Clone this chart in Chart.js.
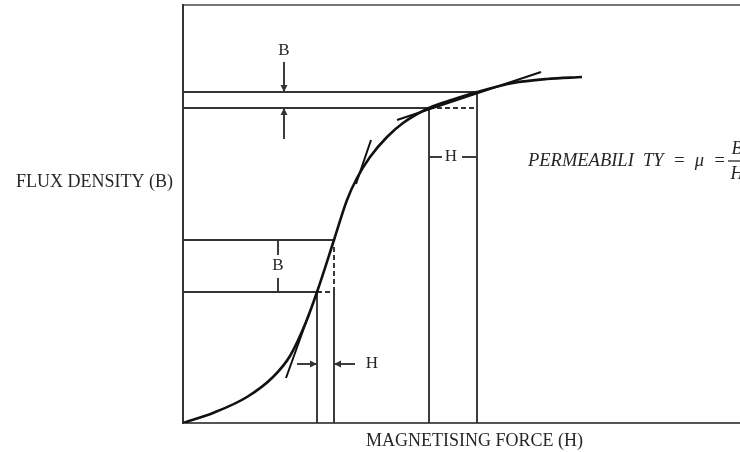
<!DOCTYPE html>
<html>
<head>
<meta charset="utf-8">
<title>Permeability - B/H curve</title>
<script src="https://cdn.jsdelivr.net/npm/chart.js@4.4.1/dist/chart.umd.min.js"></script>
<style>
    html, body { margin: 0; padding: 0; background: #fff; }
    #wrap { width: 740px; height: 452px; }
</style>
</head>
<body>
<div id="wrap"><canvas id="bhChart"></canvas></div>
<script>
// ------------------------------ Curve data (H on x, B on y, arbitrary units) ------------------------------
const curveH = [0, 6, 12.8, 18, 21.4, 24.6, 26.8, 30.2, 32.8, 34.8, 37.4, 40.8, 44, 49.2, 54, 58.8, 66, 72.8, 79.8];
const curveB = [0, 2, 5.2, 9.2, 13.4, 20.2, 26.2, 36.6, 44.6, 49, 53.2, 57.2, 60, 63, 64.7, 66.2, 68, 68.8, 69.2];

// tangent lines drawn along the curve
const tangentLowH = [20.6, 25.2];
const tangentLowB = [9, 21.8];
const tangentMidH = [34.6, 37.6];
const tangentMidB = [47.8, 56.6];
const tangentKneeH = [42.8, 71.6];
const tangentKneeB = [60.6, 70.2];

// the two measuring points (B levels and H levels)
const upperB = [63, 66.2];
const upperH = [49.2, 58.8];
const lowerB = [26.2, 36.6];
const lowerH = [26.8, 30.2];

// axis ranges
const hMax = 111.4;
const bMax = 83.6;

// dimension markers: where the little B / H arrows and ticks sit
const topArrowH = 20.2;
const topArrowFrom = [72.2, 56.8];
const upperTickB = 53.2;
const upperTickTo = [51.8, 55.8];
const lowerTickH = 19;
const lowerTickTo = [33.6, 29];
const lowerArrowB = 11.8;
const lowerArrowFrom = [22.8, 34.4];
const lowerDashTop = 35.2;

const textColor = "#262626";
const lineColor = "#333";
const curveColor = "#111";

// helper: make a list of {x, y} points from two arrays
const pts = (xs, ys) => xs.map((x, i) => ({ x: x, y: ys[i] }));

// helper: build a plain segment dataset
function seg(xs, ys, opts) {
    return Object.assign({
        data: pts(xs, ys),
        showLine: true,
        borderColor: lineColor,
        borderWidth: 1.9,
        pointRadius: 0,
        fill: false,
    }, opts || {});
}

const dashed = { borderDash: [5, 3] };
const arrow = { arrow: true };

const datasets = [
    // main magnetisation curve
    {
        data: pts(curveH, curveB),
        showLine: true,
        borderColor: curveColor,
        borderWidth: 2.6,
        pointRadius: 0,
        cubicInterpolationMode: "monotone",
        fill: false,
    },
    // tangents
    seg(tangentLowH, tangentLowB, { borderColor: curveColor, borderWidth: 2 }),
    seg(tangentMidH, tangentMidB, { borderColor: curveColor, borderWidth: 2 }),
    seg(tangentKneeH, tangentKneeB, { borderColor: curveColor, borderWidth: 2 }),

    // upper measuring box
    seg([0, upperH[1]], [upperB[1], upperB[1]]),
    seg([0, upperH[0]], [upperB[0], upperB[0]]),
    seg([upperH[0], upperH[1]], [upperB[0], upperB[0]], dashed),
    seg([upperH[0], upperH[0]], [0, upperB[0]]),
    seg([upperH[1], upperH[1]], [0, upperB[1]]),

    // lower measuring box
    seg([0, lowerH[1]], [lowerB[1], lowerB[1]]),
    seg([0, lowerH[0]], [lowerB[0], lowerB[0]]),
    seg([lowerH[0], lowerH[1]], [lowerB[0], lowerB[0]], dashed),
    seg([lowerH[0], lowerH[0]], [0, lowerB[0]]),
    seg([lowerH[1], lowerH[1]], [0, lowerB[0]]),
    seg([lowerH[1], lowerH[1]], [lowerB[0], lowerDashTop], dashed),

    // upper B arrows
    seg([topArrowH, topArrowH], [topArrowFrom[0], upperB[1]], arrow),
    seg([topArrowH, topArrowH], [topArrowFrom[1], upperB[0]], arrow),
    // upper H ticks
    seg([upperH[0], upperTickTo[0]], [upperTickB, upperTickB]),
    seg([upperTickTo[1], upperH[1]], [upperTickB, upperTickB]),
    // lower B ticks
    seg([lowerTickH, lowerTickH], [lowerB[1], lowerTickTo[0]]),
    seg([lowerTickH, lowerTickH], [lowerTickTo[1], lowerB[0]]),
    // lower H arrows
    seg([lowerArrowFrom[0], lowerH[0]], [lowerArrowB, lowerArrowB], arrow),
    seg([lowerArrowFrom[1], lowerH[1]], [lowerArrowB, lowerArrowB], arrow),
];

// text placed in chart units
const labels = [
    { text: "B", x: 20.2, y: 74.4, font: "17px 'Liberation Serif'" },
    { text: "H", x: 53.6, y: 53.2, font: "17px 'Liberation Serif'" },
    { text: "B", x: 19, y: 31.4, font: "17px 'Liberation Serif'" },
    { text: "H", x: 37.8, y: 11.8, font: "17px 'Liberation Serif'" },
    { text: "FLUX DENSITY (B)", x: -17.7, y: 48.2, font: "18px 'Liberation Serif'" },
    { text: "MAGNETISING FORCE (H)", x: 58.3, y: -3.6, font: "18px 'Liberation Serif'" },
    { text: "PERMEABILI  TY  =  \u03bc  =", x: 69, y: 52.4, font: "italic 18.5px 'Liberation Serif'", align: "left" },
];
// the B/H fraction at the end of the formula
const fraction = { top: "B", bottom: "H", x: 110.8, y: 52.4, font: "italic 18px 'Liberation Serif'" };

// ------------------------------ Plugins ------------------------------
// Draw a filled arrowhead at the last point of datasets flagged with arrow: true
const arrowHeads = {
    id: "arrowHeads",
    afterDatasetsDraw(chart) {
        const ctx = chart.ctx;
        chart.data.datasets.forEach((ds, i) => {
            if (!ds.arrow) return;
            const meta = chart.getDatasetMeta(i);
            const n = meta.data.length;
            const a = meta.data[n - 2];
            const b = meta.data[n - 1];
            const ang = Math.atan2(b.y - a.y, b.x - a.x);
            const len = 7, half = 3.5;
            ctx.save();
            ctx.fillStyle = ds.borderColor;
            ctx.beginPath();
            ctx.moveTo(b.x, b.y);
            ctx.lineTo(b.x - len * Math.cos(ang) + half * Math.sin(ang), b.y - len * Math.sin(ang) - half * Math.cos(ang));
            ctx.lineTo(b.x - len * Math.cos(ang) - half * Math.sin(ang), b.y - len * Math.sin(ang) + half * Math.cos(ang));
            ctx.closePath();
            ctx.fill();
            ctx.restore();
        });
    },
};

// Draw all the text labels
const textLabels = {
    id: "textLabels",
    afterDraw(chart) {
        const ctx = chart.ctx;
        const xs = chart.scales.x;
        const ys = chart.scales.y;
        ctx.save();
        ctx.fillStyle = textColor;
        ctx.textBaseline = "middle";
        labels.forEach((l) => {
            ctx.font = l.font;
            ctx.textAlign = l.align || "center";
            ctx.fillText(l.text, xs.getPixelForValue(l.x), ys.getPixelForValue(l.y));
        });
        // fraction B / H
        const fx = xs.getPixelForValue(fraction.x);
        const fy = ys.getPixelForValue(fraction.y);
        ctx.font = fraction.font;
        ctx.textAlign = "center";
        ctx.fillText(fraction.top, fx, fy - 12);
        ctx.fillText(fraction.bottom, fx, fy + 13);
        ctx.strokeStyle = textColor;
        ctx.lineWidth = 1.3;
        ctx.beginPath();
        ctx.moveTo(fx - 9, fy);
        ctx.lineTo(fx + 9, fy);
        ctx.stroke();
        ctx.restore();
    },
};

// ------------------------------ Chart ------------------------------
const hiddenAxis = (position, color) => ({
    type: "linear",
    position: position,
    min: 0,
    max: position === "left" ? bMax : hMax,
    ticks: { display: false },
    grid: { display: false, drawTicks: false },
    border: { display: true, color: color, width: 2 },
});

const bhChart = new Chart("bhChart", {
    type: "scatter",
    data: { datasets: datasets },
    options: {
        responsive: true,
        maintainAspectRatio: false,
        animation: false,
        layout: { padding: { left: 183, right: 0, top: 5, bottom: 29 } },
        scales: {
            x: hiddenAxis("bottom", "#555"),
            xTop: hiddenAxis("top", "#777"),
            y: hiddenAxis("left", "#333"),
        },
        plugins: {
            legend: { display: false },
            tooltip: { enabled: false },
        },
    },
    plugins: [arrowHeads, textLabels],
});
</script>
</body>
</html>
